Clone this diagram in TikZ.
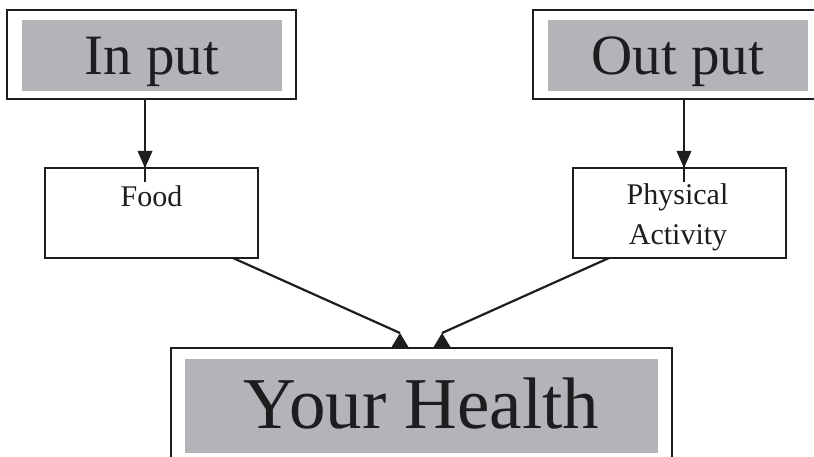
\documentclass[tikz,border=0pt]{standalone}
\usepackage{fontspec}
\setmainfont{Liberation Serif}
\definecolor{panelgray}{RGB}{179,180,184}
\definecolor{ink}{RGB}{30,28,30}
\begin{document}
\begin{tikzpicture}[x=1pt,y=-1pt,
  frame/.style={draw=ink,line width=2.2pt,fill=white,inner sep=0pt,rectangle},
  panel/.style={fill=panelgray,inner sep=0pt,rectangle},
  plainbox/.style={draw=ink,line width=2pt,fill=white,inner sep=0pt,rectangle,minimum width=213pt,minimum height=90pt},
  bigtext/.style={anchor=base,inner sep=0pt,font=\fontsize{57}{60}\selectfont,text=ink},
  hugetext/.style={anchor=base,inner sep=0pt,font=\fontsize{73}{76}\selectfont,text=ink},
  smalltext/.style={anchor=base,inner sep=0pt,font=\fontsize{30}{32}\selectfont,text=ink},
  conn/.style={draw=ink,line width=2.2pt},
  headfill/.style={fill=ink}]
\useasboundingbox (0,0) rectangle (814,457);
\clip (0,0) rectangle (814,457);

% top boxes
\node[frame,minimum width=289pt,minimum height=89pt] (inp) at (151.5,54.5) {};
\node[panel,minimum width=260pt,minimum height=71pt] (inpg) at (152,55.5) {};
\node[bigtext] (inpt) at (152,75) {In put};

\node[frame,minimum width=300pt,minimum height=89pt] (outp) at (683,54.5) {};
\node[panel,minimum width=260pt,minimum height=71pt] (outpg) at (678,55.5) {};
\node[bigtext] (outpt) at (678,75) {Out put};

% middle boxes
\node[plainbox] (food) at (151.5,213) {};
\node[smalltext] (foodt) at (151.5,207) {Food};
\node[plainbox] (phys) at (679,213) {};
\node[smalltext] (physt1) at (677.5,205) {Physical};
\node[smalltext] (physt2) at (678,244) {Activity};

% bottom box
\node[frame,minimum width=501pt,minimum height=132pt] (health) at (421.5,414) {};
\node[panel,minimum width=473pt,minimum height=94pt] (healthg) at (421.5,406) {};
\node[hugetext] (healtht) at (421.5,428) {Your Health};

% connector anchor points
\coordinate (tipA) at (145,168);
\coordinate (tipB) at (684,168);
\coordinate (srcC) at (233,258);
\coordinate (srcD) at (609,258);
\coordinate (tipC) at (400,333);
\coordinate (tipD) at (442,333);

% vertical arrows
\draw[conn] (inp.south -| tipA) -- ([yshift=-14pt]tipA);
\fill[headfill] (tipA) -- ++(-7.5,-17) -- ++(15,0) -- cycle;
\draw[conn] (outp.south -| tipB) -- ([yshift=-14pt]tipB);
\fill[headfill] (tipB) -- ++(-7.5,-17) -- ++(15,0) -- cycle;

% converging arrows
\draw[conn] (srcC) -- (tipC);
\fill[headfill] (tipC) -- ++(-9,15) -- ++(18,0) -- cycle;
\draw[conn] (srcD) -- (tipD);
\fill[headfill] (tipD) -- ++(-9,15) -- ++(18,0) -- cycle;
\end{tikzpicture}
\end{document}
